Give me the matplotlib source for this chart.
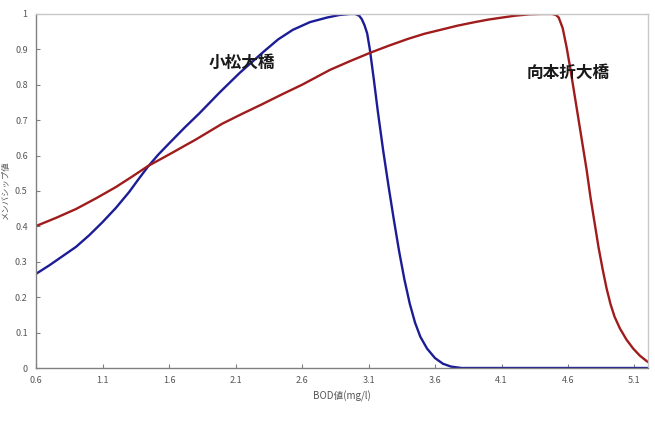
import matplotlib
matplotlib.use("Agg")
import matplotlib.pyplot as plt

plt.rcParams["font.family"] = ["Noto Sans CJK JP", "DejaVu Sans"]

# membership curves
komatsu_x = [0.6, 0.7, 0.8, 0.9, 1.0, 1.1, 1.2, 1.3, 1.37, 1.44, 1.52, 1.61, 1.72, 1.83, 1.98,
             2.13, 2.22, 2.31, 2.42, 2.53, 2.66, 2.79, 2.88, 2.96, 3.0, 3.03, 3.05, 3.07,
             3.09, 3.11, 3.14, 3.17, 3.21, 3.25, 3.29, 3.33, 3.37, 3.41, 3.45, 3.49, 3.54,
             3.6, 3.66, 3.72, 3.8, 5.2]
komatsu_y = [0.266, 0.29, 0.316, 0.342, 0.375, 0.412, 0.452, 0.497, 0.533, 0.568, 0.603, 0.638, 0.68, 0.72, 0.778,
             0.833, 0.863, 0.893, 0.928, 0.955, 0.977, 0.99, 0.997, 1.0, 1.0, 0.995, 0.985, 0.968,
             0.945, 0.9, 0.815, 0.725, 0.615, 0.515, 0.42, 0.33, 0.25, 0.182, 0.128, 0.088, 0.055,
             0.028, 0.012, 0.004, 0.0, 0.0]

mukomoto_x = [0.6, 0.75, 0.9, 1.05, 1.2, 1.32, 1.44, 1.6, 1.8, 2.0, 2.15, 2.3, 2.45, 2.6,
              2.81, 2.95, 3.11, 3.25, 3.4, 3.52, 3.64, 3.77, 3.9, 4.0, 4.09, 4.2, 4.31, 4.4,
              4.48, 4.51, 4.53, 4.56, 4.59, 4.62, 4.65, 4.68, 4.71, 4.74, 4.77, 4.8, 4.83,
              4.86, 4.89, 4.92, 4.95, 4.99, 5.04, 5.09, 5.14, 5.2]
mukomoto_y = [0.401, 0.424, 0.449, 0.479, 0.511, 0.54, 0.57, 0.603, 0.645, 0.69, 0.718, 0.745, 0.773, 0.8,
              0.842, 0.865, 0.89, 0.91, 0.93, 0.944, 0.955, 0.967, 0.977, 0.984, 0.989, 0.995, 0.999, 1.0,
              1.0, 0.997, 0.99, 0.96, 0.905, 0.84, 0.77, 0.7, 0.63, 0.56, 0.48, 0.41, 0.34,
              0.28, 0.225, 0.18, 0.145, 0.112, 0.08, 0.055, 0.035, 0.017]

x_ticks = [0.6, 1.1, 1.6, 2.1, 2.6, 3.1, 3.6, 4.1, 4.6, 5.1]
y_ticks = [0, 0.1, 0.2, 0.3, 0.4, 0.5, 0.6, 0.7, 0.8, 0.9, 1]


def main():
    fig = plt.figure(figsize=(6.55, 4.23), dpi=100)
    ax = fig.add_axes([0.055, 0.130, 0.934, 0.837])

    ax.plot(komatsu_x, komatsu_y, color="#1c1c96", linewidth=1.7,
            solid_capstyle="round", solid_joinstyle="round")
    ax.plot(mukomoto_x, mukomoto_y, color="#a01c1c", linewidth=1.7,
            solid_capstyle="round", solid_joinstyle="round")

    ax.set_xlim(0.6, 5.2)
    ax.set_ylim(0, 1)
    ax.set_xticks(x_ticks)
    ax.set_xticklabels([f"{v:g}" for v in x_ticks])
    ax.set_yticks(y_ticks)
    ax.set_yticklabels([f"{v:g}" for v in y_ticks])
    ax.tick_params(direction="in", length=3, width=0.8, colors="#808080",
                   labelsize=6.5, labelcolor="#555555", pad=6)

    for side in ["left", "bottom"]:
        ax.spines[side].set_color("#808080")
        ax.spines[side].set_linewidth(1.0)
    for side in ["top", "right"]:
        ax.spines[side].set_color("#c8c8c8")
        ax.spines[side].set_linewidth(1.0)

    ax.set_xlabel("BOD値(mg/l)", fontsize=7, color="#555555", labelpad=4)
    ax.set_ylabel("メンバシップ値", fontsize=6, color="#555555")
    ax.yaxis.set_label_coords(-0.043, 0.5)

    ax.text(2.15, 0.862, "小松大橋", fontsize=12, fontweight="bold",
            ha="center", va="center", color="#1a1a1a")
    ax.text(4.6, 0.833, "向本折大橋", fontsize=12, fontweight="bold",
            ha="center", va="center", color="#1a1a1a")

    fig.savefig("out.png", dpi=100)
    plt.close(fig)


if __name__ == "__main__":
    main()
